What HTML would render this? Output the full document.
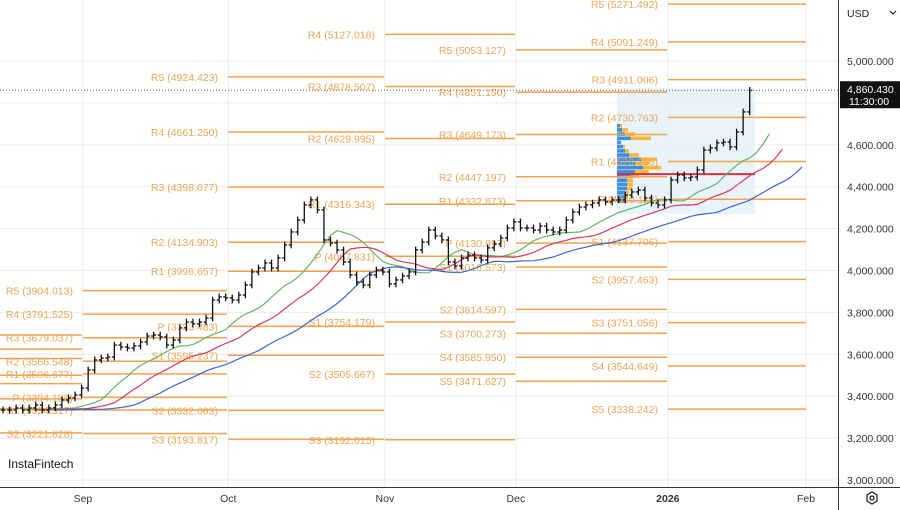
<!DOCTYPE html>
<html><head><meta charset="utf-8"><style>
html,body{margin:0;padding:0;background:#fff;width:900px;height:510px;overflow:hidden;font-family:"Liberation Sans",sans-serif}
svg{display:block}
</style></head><body>
<svg id="chart" width="900" height="510" viewBox="0 0 900 510" xmlns="http://www.w3.org/2000/svg">
<g id="grid"></g>
<g id="profile"></g>
<g id="pivots"></g>
<g id="mas"></g>
<g id="bars"></g>
<g id="axes"></g>
</svg>
<script>
// ---- data ----
const closes = [3334,3334,3344,3334,3344,3358,3334,3344,3358,3382,3392,3406,3439,3525,3573,3582,3587,3644,3635,3630,
3640,3659,3687,3692,3683,3644,3668,3726,3754,3745,3754,3773,3859,3874,3869,3859,3883,3931,3993,4012,
4036,4012,4060,4122,4184,4241,4313,4337,4289,4146,4131,4098,4041,3979,3945,3931,3979,4002,3993,3936,
3955,3974,3993,4098,4136,4193,4165,4146,4041,4022,4060,4074,4060,4050,4108,4127,4155,4203,4232,4203,
4203,4193,4212,4193,4184,4193,4241,4279,4303,4313,4322,4337,4327,4337,4337,4360,4375,4384,4346,4322,
4313,4337,4432,4456,4442,4446,4480,4575,4585,4609,4613,4590,4661,4757,4860];
const yTicks = [5000,4800,4600,4400,4200,4000,3800,3600,3400,3200,3000];
const monthLabels = ["Sep","Oct","Nov","Dec","2026","Feb"];
const monthBarIndex = [12.2,34.4,58.3,78.3,101.5,122.6];
const segStart = [0,83,228,385,516,668];
const segEnd = [82,227,384,515,667,806];
const pivotNames = [
 ["R5","R4","R3","R2","R1","P","S1","S2"],
 ["R5","R4","R3","R2","R1","P","S1","S2"],
 ["R5","R4","R3","R2","R1","P","S1","S2","S3"],
 ["R4","R3","R2","R1","P","S1","S2","S3"],
 ["R5","R4","R3","R2","R1","P","S1","S2","S3","S4","S5"],
 ["R5","R4","R3","R2","R1","P","S1","S2","S3","S4","S5"]];
const pivotValues = [
 [3692,3625,3580,3500,3460,3387,3340,3225],
 [3904.013,3791.525,3679.037,3566.548,3506.677,3394.188,3334.317,3221.828],
 [4924.423,4661.250,4398.077,4134.903,3996.657,3733.483,3595.237,3332.063,3193.817],
 [5127.018,4878.507,4629.995,4316.343,4067.831,3754.179,3505.667,3192.015],
 [5053.127,4851.150,4649.173,4447.197,4332.873,4130.897,4016.573,3814.597,3700.273,3585.950,3471.627],
 [5271.492,5091.249,4911.006,4730.763,4520.356,4340.113,4137.706,3957.463,3751.056,3544.649,3338.242]];
const profilePrices = [4690,4670,4650,4630,4610,4590,4570,4550,4530,4510,4490,4470,4450,4430,4410,4390,4370,4350,4330];
const profileBlue = [3,5,8,14,4,6,8,12,24,18,26,18,14,10,10,10,8,8,8];
const profileOrange = [2,6,10,20,0,2,4,10,16,14,18,14,8,6,6,5,4,3,2];
const lastPrice = 4860.43;

// ---- scales ----
const yv = v => 61 + (5000 - v) * 0.2095;
const xb = i => 3 + i * 6.55;
const NS = "http://www.w3.org/2000/svg";
function mk(tag, attrs, parent){const e=document.createElementNS(NS,tag);for(const k in attrs)e.setAttribute(k,attrs[k]);parent.appendChild(e);return e;}

const grid=document.getElementById('grid');
yTicks.forEach(v=>{const l=mk('line',{x1:0,x2:838,y1:yv(v),y2:yv(v),stroke:'#ececec','stroke-width':1},grid);

});
monthBarIndex.forEach(b=>{const l=mk('line',{x1:xb(b),x2:xb(b),y1:0,y2:487,stroke:'#ececec','stroke-width':1},grid);

});

// volume profile
const prof=document.getElementById('profile');
const box=mk('rect',{x:617,y:yv(4870),width:138,height:yv(4270)-yv(4870),fill:'#e3f0fb',opacity:0.8},prof);


profilePrices.forEach((p,i)=>{
 const y=yv(p)-2;
 const b=mk('rect',{x:617,y:y,width:profileBlue[i],height:3.6,fill:'#3d8fe0'},prof);
 
 
 const o=mk('rect',{x:617+profileBlue[i],y:y,width:profileOrange[i],height:3.6,fill:'#f5b63a'},prof);
 
 
});
const poc=mk('line',{x1:617,x2:755,y1:yv(4460),y2:yv(4460),stroke:'#d9303e','stroke-width':2},prof);



// pivots
const piv=document.getElementById('pivots');
segStart.forEach((s,w)=>{
 pivotValues[w].forEach((v,k)=>{
  const y=yv(v);
  const l=mk('line',{x1:s,x2:segEnd[w],y1:y,y2:y,stroke:'#f3a24f','stroke-width':1.5},piv);
  
  
  if(w>0){
   const t=mk('text',{x:s-10,y:y+4,'text-anchor':'end','font-size':10.5,fill:'#eea552'},piv);
   t.textContent=pivotNames[w][k]+' ('+v.toFixed(3)+')';
   
   
  }
 });
});

// alligator (smoothed MAs, shifted forward)
function smma(n){const out=[];let s=closes[0];closes.forEach((c,i)=>{s=(s*(n-1)+c)/n;out.push(s);});return out;}
const mas=document.getElementById('mas');
[[5,3,'#62b662','alligator-lips'],[8,5,'#d83a5a','alligator-teeth'],[13,8,'#3c66d6','alligator-jaw']].forEach(([n,sh,col,name])=>{
 const vals=smma(n);
 const d=vals.map((v,i)=>(i?'L':'M')+xb(i+sh).toFixed(1)+' '+yv(v).toFixed(1)).join(' ');
 const p=mk('path',{d:d,fill:'none',stroke:col,'stroke-width':1.2},mas);
 
 
});

// OHLC bars
const bars=document.getElementById('bars');
closes.forEach((c,i)=>{
 const o=i?closes[i-1]:c;
 const hi=Math.max(o,c)+16, lo=Math.min(o,c)-16;
 const x=xb(i);
 const g=mk('g',{stroke:'#111','stroke-width':1.3},bars);
 
 
 mk('line',{x1:x,x2:x,y1:yv(hi),y2:yv(lo)},g);
 mk('line',{x1:x-2.5,x2:x,y1:yv(o),y2:yv(o)},g);
 mk('line',{x1:x,x2:x+2.5,y1:yv(c),y2:yv(c)},g);
});

// axes
const ax=document.getElementById('axes');
const ly=yv(lastPrice);
const dl=mk('line',{x1:0,x2:838,y1:ly,y2:ly,stroke:'#666','stroke-width':1,'stroke-dasharray':'1 2'},ax);


const ra=mk('line',{x1:838.5,x2:838.5,y1:0,y2:510,stroke:'#333','stroke-width':1},ax);


const ba=mk('line',{x1:0,x2:900,y1:487.5,y2:487.5,stroke:'#333','stroke-width':1},ax);


yTicks.forEach(v=>{const t=mk('text',{x:847,y:yv(v)+4,'font-size':10.5,fill:'#333'},ax);
 t.textContent=v.toLocaleString('en-US',{minimumFractionDigits:3});
 
 });
monthLabels.forEach((m,i)=>{const t=mk('text',{x:xb(monthBarIndex[i]),y:502,'text-anchor':'middle','font-size':10.5,fill:'#333','font-weight':m==='2026'?'bold':'normal'},ax);
 t.textContent=m;
 
 });
const pb=mk('rect',{x:840,y:ly-9,width:60,height:27,fill:'#111'},ax);


const pt=mk('text',{x:847,y:ly+3,'font-size':10.5,fill:'#fff'},ax);pt.textContent='4,860.430';


const tt=mk('text',{x:849,y:ly+15,'font-size':10.5,fill:'#fff'},ax);tt.textContent='11:30:00';


const usd=mk('text',{x:847,y:17,'font-size':10.5,fill:'#222'},ax);usd.textContent='USD';


const chev=mk('path',{d:'M890 11 L893 14 L896 11',fill:'none',stroke:'#222','stroke-width':1.2},ax);


const gear=mk('g',{},ax);


mk('path',{d:'M872 492 L877 495 L877 501 L872 504 L867 501 L867 495 Z',fill:'none',stroke:'#222','stroke-width':1.3},gear);
mk('circle',{cx:872,cy:498,r:2,fill:'none',stroke:'#222','stroke-width':1.3},gear);
const logoBox=mk('rect',{x:0,y:447,width:80,height:33,fill:'#fff'},ax);


const logo=mk('text',{x:8,y:468,'font-size':12,fill:'#111'},ax);logo.textContent='InstaFintech';


</script>
</body></html>
